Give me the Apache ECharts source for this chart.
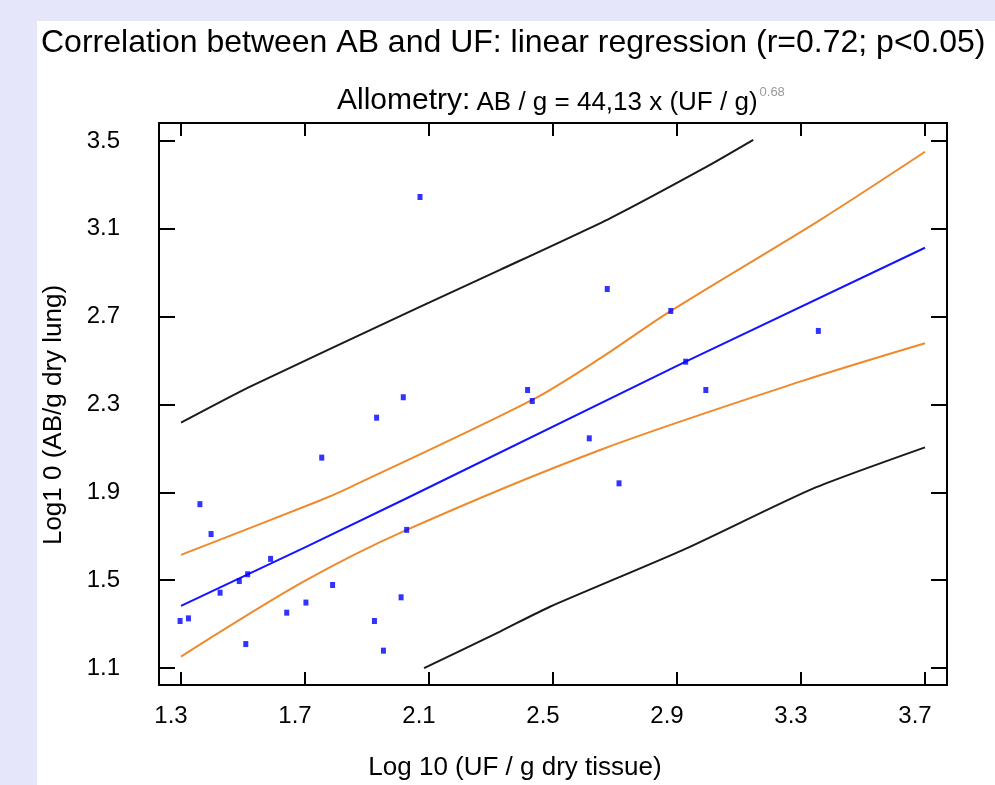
<!DOCTYPE html>
<html><head><meta charset="utf-8">
<script src="https://cdn.jsdelivr.net/npm/echarts@6/dist/echarts.min.js"></script>
<style>html,body{margin:0;padding:0;background:#e6e6fa}#c{width:995px;height:785px}</style>
</head><body><div id="c"></div>
<script>
// Tick labels
const xTicks = [1.3, 1.7, 2.1, 2.5, 2.9, 3.3, 3.7];
const yTicks = [1.1, 1.5, 1.9, 2.3, 2.7, 3.1, 3.5];

// Observations (log10 UF/g, log10 AB/g)
const obsX = [2.071, 2.017, 1.931, 2.418, 2.433, 1.754, 1.361, 1.397, 2.028, 1.515, 1.488, 1.426, 1.789, 1.703, 2.010, 1.641, 1.324, 1.297, 1.924, 1.509, 1.953, 2.675, 2.880, 3.356, 2.993, 2.617, 2.713, 1.589, 2.928];
const obsY = [3.245, 2.333, 2.240, 2.366, 2.316, 2.058, 1.846, 1.710, 1.729, 1.527, 1.496, 1.443, 1.478, 1.398, 1.422, 1.352, 1.326, 1.314, 1.314, 1.209, 1.179, 2.826, 2.726, 2.635, 2.366, 2.146, 1.941, 1.597, 2.495];

// Regression line
const regX = [1.3, 1.705, 2.028, 2.928, 3.7];
const regY = [1.383, 1.653, 1.873, 2.495, 3.014];

// Confidence band (mean)
const confUpX = [1.3, 1.738, 1.845, 2.433, 2.652, 2.88, 3.361, 3.7];
const confUpY = [1.615, 1.857, 1.923, 2.321, 2.510, 2.726, 3.140, 3.451];
const confLoX = [1.3, 1.695, 2.028, 2.652, 3.297, 3.7];
const confLoY = [1.152, 1.493, 1.729, 2.093, 2.404, 2.579];

// Prediction band
const predUpX = [1.3, 1.523, 2.06, 2.329, 2.684, 2.996, 3.146];
const predUpY = [2.217, 2.381, 2.738, 2.913, 3.148, 3.383, 3.505];
const predLoX = [2.084, 2.329, 2.49, 2.92, 3.34, 3.7];
const predLoY = [1.099, 1.266, 1.379, 1.638, 1.918, 2.105];

const zip = (a, b) => a.map((v, i) => [v, b[i]]);

const chart = echarts.init(document.getElementById('c'), null, {renderer: 'canvas'});
const font = "'Liberation Sans', Arial, sans-serif";

const xMin = 1.229, xMax = 3.771, yMin = 1.0226, yMax = 3.582;
const fmt = v => Number(v).toFixed(1);

function xAxisDef(pos, showLabel) {
  return {
    type: 'value', position: pos, min: xMin, max: xMax,
    axisLine: {show: true, onZero: false, lineStyle: {color: '#000', width: 2}},
    axisTick: {show: true, inside: true, length: 13, customValues: xTicks, lineStyle: {color: '#000', width: 2}},
    axisLabel: {show: showLabel, customValues: xTicks, formatter: fmt, margin: 19, fontFamily: font, fontSize: 24, color: '#000', padding: [0, 20, 0, 0]},
    splitLine: {show: false}
  };
}
function yAxisDef(pos, showLabel) {
  return {
    type: 'value', position: pos, min: yMin, max: yMax,
    axisLine: {show: true, onZero: false, lineStyle: {color: '#000', width: 2}},
    axisTick: {show: true, inside: true, length: 16, customValues: yTicks, lineStyle: {color: '#000', width: 2}},
    axisLabel: {show: showLabel, customValues: yTicks, formatter: fmt, margin: 39, fontFamily: font, fontSize: 24, color: '#000'},
    splitLine: {show: false}
  };
}

const xb = xAxisDef('bottom', true);
xb.name = 'Log 10 (UF / g dry tissue)';
xb.nameLocation = 'middle';
xb.nameGap = 70;
xb.nameTextStyle = {fontFamily: font, fontSize: 26, color: '#000', padding: [0, 76, 0, 0]};
const yl = yAxisDef('left', true);
yl.name = 'Log1 0 (AB/g dry lung)';
yl.nameLocation = 'middle';
yl.nameGap = 92;
yl.nameRotate = 90;
yl.nameTextStyle = {fontFamily: font, fontSize: 26, color: '#000', padding: [0, 22, 0, 0]};

const lineSeries = (name, xs, ys, color, smooth) => ({
  name, type: 'line', data: zip(xs, ys), showSymbol: false, symbol: 'none', smooth: smooth,
  lineStyle: {color, width: 2}, z: 2, animation: false, clip: true
});

chart.setOption({
  backgroundColor: '#e6e6fa',
  animation: false,
  graphic: [{type: 'rect', shape: {x: 37, y: 21, width: 958, height: 764}, style: {fill: '#ffffff'}, z: -10, silent: true}],
  title: [
    {text: 'Correlation between AB and UF: linear regression (r=0.72; p<0.05)', left: 41, top: 27, padding: 0,
     textStyle: {fontFamily: font, fontSize: 32, fontWeight: 'normal', color: '#000'}},
    {text: '{a|Allometry:} {b|AB / g = 44,13 x (UF / g)}{c|0.68}', left: 337, top: 86, padding: 0,
     textStyle: {fontFamily: font, fontSize: 22, fontWeight: 'normal', color: '#000',
       rich: {
         a: {fontFamily: font, fontSize: 30, color: '#000', verticalAlign: 'bottom'},
         b: {fontFamily: font, fontSize: 26, color: '#000', verticalAlign: 'bottom'},
         c: {fontFamily: font, fontSize: 13, color: '#999', verticalAlign: 'top', padding: [0, 0, 0, 2]}
       }}}
  ],
  grid: {left: 159, right: 48, top: 123, bottom: 100, containLabel: false, outerBoundsMode: 'none', show: false},
  xAxis: [xb, xAxisDef('top', false)],
  yAxis: [yl, yAxisDef('right', false)],
  series: [
    lineSeries('Prediction upper', predUpX, predUpY, '#1a1a1a', 0.2),
    lineSeries('Prediction lower', predLoX, predLoY, '#1a1a1a', 0.2),
    lineSeries('Confidence upper', confUpX, confUpY, '#ee8a2c', 0.3),
    lineSeries('Confidence lower', confLoX, confLoY, '#ee8a2c', 0.3),
    lineSeries('Regression', regX, regY, '#1414ff', false),
    {name: 'Observations', type: 'scatter', data: zip(obsX, obsY), symbol: 'rect', symbolSize: [5, 6],
     itemStyle: {color: '#0000ff'}, z: 5, animation: false}
  ]
});
</script></body></html>
